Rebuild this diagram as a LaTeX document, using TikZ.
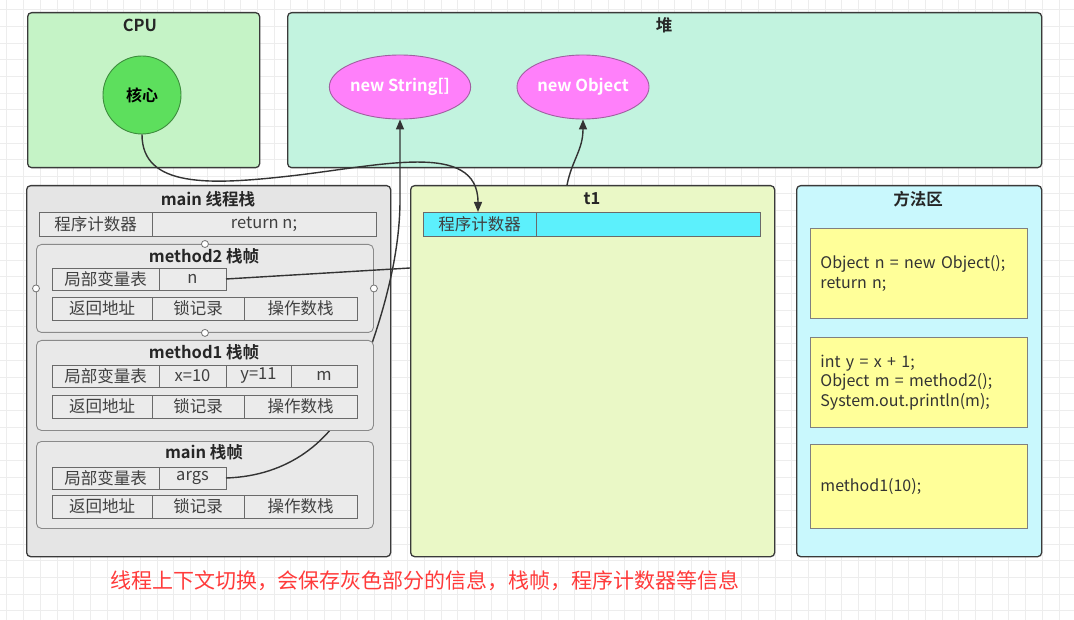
\documentclass[tikz,border=0pt]{standalone}
\usepackage{fontspec}
\setmainfont{Noto Sans CJK SC}[BoldFont={Noto Sans CJK SC Bold}]
\usetikzlibrary{arrows.meta}
\usetikzlibrary{shapes.geometric}

\definecolor{gridcol}{HTML}{EDEDED}
\definecolor{zoneline}{HTML}{3A3A3A}
\definecolor{cpufill}{HTML}{C5F3C6}
\definecolor{corefill}{HTML}{5DDF5D}
\definecolor{coreline}{HTML}{3C8C3C}
\definecolor{heapfill}{HTML}{C2F3DF}
\definecolor{objfill}{HTML}{FF80FA}
\definecolor{objline}{HTML}{A060A0}
\definecolor{stackfill}{HTML}{E5E5E5}
\definecolor{sfline}{HTML}{8A8A8A}
\definecolor{sffill}{HTML}{E9E9E9}
\definecolor{cellline}{HTML}{6A6A6A}
\definecolor{cellfill}{HTML}{EBEBEB}
\definecolor{threadfill}{HTML}{EAF8C6}
\definecolor{pcfill}{HTML}{5CF0FC}
\definecolor{methodfill}{HTML}{C9F8FD}
\definecolor{codefill}{HTML}{FFFF99}
\definecolor{linkcol}{HTML}{333333}
\definecolor{notered}{HTML}{FF3B3B}

\tikzset{
  zone/.style={draw=zoneline, line width=1.3pt, rounded corners=4pt, anchor=north west, inner sep=0pt},
  ttl/.style={font=\bfseries\fontsize{16.5}{16.5}\selectfont, text=black!85},
  stackframe/.style={draw=sfline, line width=0.9pt, fill=sffill, rounded corners=5pt, anchor=north west, inner sep=0pt},
  cellbox/.style={draw=cellline, line width=0.9pt, fill=cellfill, anchor=north west, inner sep=0pt, outer sep=0pt, minimum height=22pt, font=\fontsize{16.5}{16.5}\selectfont, text=black!75},
  heapobj/.style={ellipse, draw=objline, line width=0.9pt, fill=objfill, minimum width=132pt, minimum height=64pt, inner sep=0pt, text=white, font=\bfseries\fontsize{16.5}{16.5}\selectfont},
  codebox/.style={draw=black!50, line width=0.9pt, fill=codefill, anchor=north west, inner sep=0pt, minimum width=217pt, text width=197pt, align=left, font=\fontsize{16}{19.5}\selectfont, text=black!80},
  link/.style={draw=linkcol, line width=1.4pt},
  arrowtip/.style={-{Triangle[length=10pt,width=8pt]}},
  dotpt/.style={circle, draw=black!55, fill=white, line width=0.8pt, inner sep=0pt, minimum size=7pt},
}

\begin{document}
\begin{tikzpicture}[x=1pt, y=-1pt]
  \useasboundingbox[fill=white] (0,0) rectangle (1074,620);
  % background grid
  \foreach \gx in {6.7,23.4,...,1074} \draw[gridcol, line width=0.6pt] (\gx,0) -- (\gx,620);
  \foreach \gy in {9.5,26.2,...,620} \draw[gridcol, line width=0.6pt] (0,\gy) -- (1074,\gy);

  % CPU and heap
  \node[zone, fill=cpufill, minimum width=232pt, minimum height=155pt] (cpu) at (27,12) {};
  \node[ttl] at (140,25) {CPU};
  \node[circle, draw=coreline, line width=0.9pt, fill=corefill, minimum size=78pt, inner sep=0pt, font=\bfseries\fontsize{16}{16}\selectfont] (core) at (142,95) {核心};
  \node[zone, fill=heapfill, minimum width=754pt, minimum height=155pt] (heap) at (287,12) {};
  \node[ttl] at (664,25) {堆};
  \node[heapobj] (strarr) at (400,87) {new String[]};
  \node[heapobj] (newobj) at (583,87) {new Object};

  % main thread stack
  \node[zone, fill=stackfill, minimum width=364pt, minimum height=371pt] (mainstack) at (26,185) {};
  \node[ttl] at (208,199) {main 线程栈};
  \node[cellbox, minimum width=113pt, minimum height=24pt] (mpc) at (39,212) {程序计数器};
  \node[cellbox, minimum width=224pt, minimum height=24pt] (mpcv) at (152,212) {return n;};

  % main frame
  \node[stackframe, minimum width=337pt, minimum height=87pt] (mainfr) at (36,441) {};
  \node[ttl] at (204,452) {main 栈帧};
  \node[cellbox, minimum width=107pt] (mainlv) at (52,467) {局部变量表};
  \node[cellbox, minimum width=67pt] (argsv) at (159,467) {args};
  \node[cellbox, minimum width=100pt, minimum height=23pt] (mainra) at (52,495) {返回地址};
  \node[cellbox, minimum width=92pt, minimum height=23pt] (mainlk) at (152,495) {锁记录};
  \node[cellbox, minimum width=113pt, minimum height=23pt] (mainop) at (244,495) {操作数栈};

  % args -> new String[]
  \draw[link, arrowtip] (argsv.east) .. controls (290,476) and (330,440) .. (350,400)
    .. controls (380,330) and (400,260) .. (400,200) -- (strarr.south);

  % method1 frame
  \node[stackframe, minimum width=337pt, minimum height=90pt] (m1fr) at (36,340) {};
  \node[ttl] at (204,352) {method1 栈帧};
  \node[cellbox, minimum width=107pt] (m1lv) at (52,365) {局部变量表};
  \node[cellbox, minimum width=67pt] (xv) at (159,365) {x=10};
  \node[cellbox, minimum width=65pt] (yv) at (226,365) {y=11};
  \node[cellbox, minimum width=66pt] (mv) at (291,365) {m};
  \node[cellbox, minimum width=100pt, minimum height=23pt] (m1ra) at (52,395) {返回地址};
  \node[cellbox, minimum width=92pt, minimum height=23pt] (m1lk) at (152,395) {锁记录};
  \node[cellbox, minimum width=113pt, minimum height=23pt] (m1op) at (244,395) {操作数栈};

  % method2 frame
  \node[stackframe, minimum width=337pt, minimum height=88pt] (m2fr) at (36,244) {};
  \node[ttl] at (204,256) {method2 栈帧};
  \node[cellbox, minimum width=107pt] (m2lv) at (52,268) {局部变量表};
  \node[cellbox, minimum width=67pt] (nv) at (159,268) {n};
  \node[cellbox, minimum width=100pt, minimum height=23pt] (m2ra) at (52,297) {返回地址};
  \node[cellbox, minimum width=92pt, minimum height=23pt] (m2lk) at (152,297) {锁记录};
  \node[cellbox, minimum width=113pt, minimum height=23pt] (m2op) at (244,297) {操作数栈};
  \node[dotpt] (m2top) at (m2fr.north) {};
  \node[dotpt] (m2left) at (m2fr.west) {};
  \node[dotpt] (m2right) at (m2fr.east) {};
  \node[dotpt] (m2bot) at (m2fr.south) {};

  % n -> new Object
  \draw[link, arrowtip] (nv.east) -- (410,268) .. controls (500,262) and (562,230) .. (567,185)
    .. controls (572,160) and (583,150) .. (newobj.south);

  % thread t1
  \node[zone, fill=threadfill, minimum width=364pt, minimum height=371pt] (t1) at (410,185) {};
  \node[ttl] at (592,199) {t1};
  \node[cellbox, fill=pcfill, minimum width=113pt, minimum height=24pt] (tpc) at (423,212) {程序计数器};
  \node[cellbox, fill=pcfill, minimum width=224pt, minimum height=24pt] (tpcv) at (536,212) {};
  \coordinate (pcin) at ([xshift=55pt]tpc.north west);

  % core -> t1
  \draw[link, arrowtip] (core.south) .. controls (142,188) and (210,185) .. (290,176)
    .. controls (380,166) and (478,140) .. (pcin);

  % method area
  \node[zone, fill=methodfill, minimum width=245pt, minimum height=371pt] (marea) at (796,185) {};
  \node[ttl] at (918,199) {方法区};
  \node[codebox, minimum height=90pt] (code2) at (810,228) {Object n = new Object();\\return n;};
  \node[codebox, minimum height=90pt] (code1) at (810,337) {int y = x + 1;\\Object m = method2();\\System.out.println(m);};
  \node[codebox, minimum height=84pt] (code0) at (810,444) {method1(10);};

  \node[text=notered, font=\fontsize{21}{21}\selectfont] (note) at (425,581) {线程上下文切换，会保存灰色部分的信息，栈帧，程序计数器等信息};
\end{tikzpicture}
\end{document}
